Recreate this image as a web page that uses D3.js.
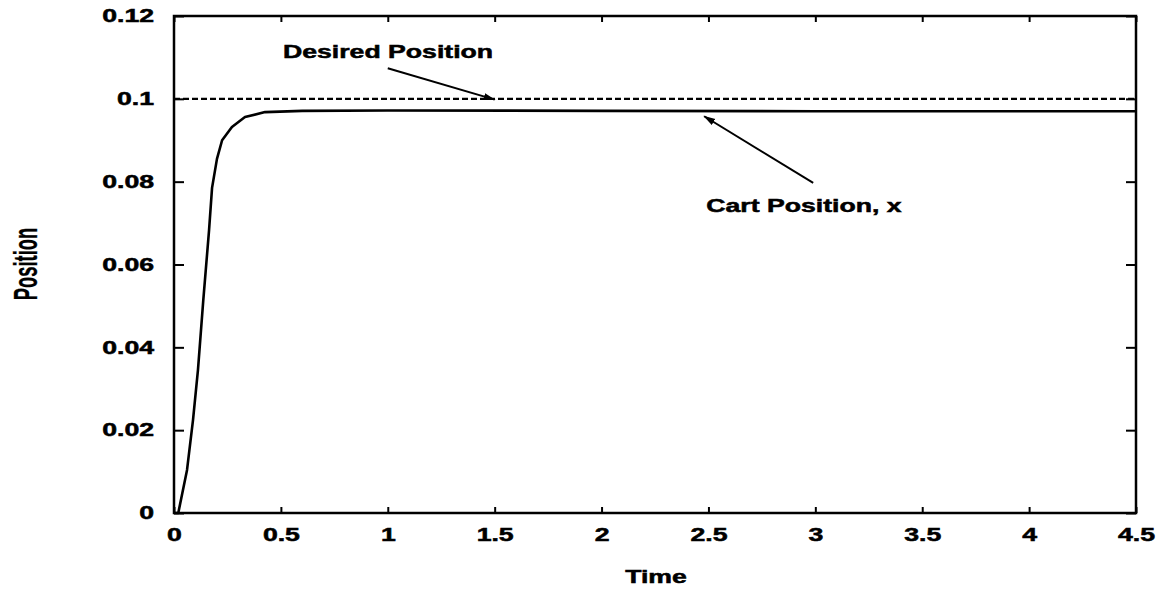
<!DOCTYPE html>
<html>
<head>
<meta charset="utf-8">
<script src="https://cdn.jsdelivr.net/npm/d3@7"></script>
<style>
  body { margin: 0; background: #fff; }
  svg { display: block; }
  text { stroke: #000; stroke-width: 0.5px; }
</style>
</head>
<body>
<script>
// values
const time = [0, 0.02, 0.061, 0.089, 0.112, 0.137, 0.164, 0.178, 0.201, 0.225, 0.271, 0.332, 0.426, 0.6, 1.0, 2.0, 3.0, 4.0, 4.5];
const cartPos = [0, 0, 0.0104, 0.0225, 0.0345, 0.0514, 0.0683, 0.0785, 0.0855, 0.090, 0.0932, 0.0956, 0.0968, 0.0971, 0.0972, 0.0971, 0.097, 0.097, 0.097];
const desiredTime = [0, 4.5];
const desiredPos = [0.1, 0.1];
const xTicks = [0, 0.5, 1, 1.5, 2, 2.5, 3, 3.5, 4, 4.5];
const yTicks = [0, 0.02, 0.04, 0.06, 0.08, 0.1, 0.12];
const yTickLabels = ["0", "0.02", "0.04", "0.06", "0.08", "0.1", "0.12"];

const width = 1160, height = 589;
const margin = {top: 16, right: 24, bottom: 76, left: 174};
const stretch = 1.48; // the scan's lettering is wide

const svg = d3.select("body").append("svg")
    .attr("width", width)
    .attr("height", height)
    .attr("font-family", "'Liberation Sans', Arial, sans-serif")
    .attr("font-weight", "bold");

const x = d3.scaleLinear().domain([0, 4.5]).range([margin.left, width - margin.right]);
const y = d3.scaleLinear().domain([0, 0.12]).range([height - margin.bottom, margin.top]);

svg.append("defs").append("marker")
    .attr("id", "arrow")
    .attr("viewBox", "0 0 12 8")
    .attr("refX", 11).attr("refY", 4)
    .attr("markerWidth", 12).attr("markerHeight", 8)
    .attr("markerUnits", "userSpaceOnUse")
    .attr("orient", "auto")
  .append("path")
    .attr("d", "M0,0.5 L12,4 L0,7.5 Z")
    .attr("fill", "#000");

// axes: inward ticks on all four sides
const gx = svg.append("g")
    .attr("transform", `translate(0,${y(0)})`)
    .call(d3.axisBottom(x).tickValues(xTicks).tickSizeInner(-6).tickSizeOuter(0).tickPadding(15)
      .tickFormat(d => String(d)));
const gy = svg.append("g")
    .attr("transform", `translate(${x(0)},0)`)
    .call(d3.axisLeft(y).tickValues(yTicks).tickSizeInner(-10).tickSizeOuter(0).tickPadding(13.5)
      .tickFormat((d, i) => yTickLabels[i]));
svg.append("g")
    .attr("transform", `translate(0,${y(0.12)})`)
    .call(d3.axisTop(x).tickValues(xTicks).tickSizeInner(-6).tickSizeOuter(0).tickFormat(""));
svg.append("g")
    .attr("transform", `translate(${x(4.5)},0)`)
    .call(d3.axisRight(y).tickValues(yTicks).tickSizeInner(-10).tickSizeOuter(0).tickFormat(""));

svg.selectAll(".domain").remove();
svg.selectAll(".tick line").attr("stroke", "#000").attr("stroke-width", 2);
svg.selectAll(".tick text")
    .attr("font-size", 18)
    .attr("fill", "#000")
    .attr("transform", `scale(${stretch},1)`);
gx.attr("font-family", null).attr("font-size", null);
gy.attr("font-family", null).attr("font-size", null);

svg.append("rect")
    .attr("x", x(0)).attr("y", y(0.12))
    .attr("width", x(4.5) - x(0)).attr("height", y(0) - y(0.12))
    .attr("fill", "none")
    .attr("stroke", "#000")
    .attr("stroke-width", 2.5);

// series
const line = d3.line().x(d => x(d[0])).y(d => y(d[1]));

svg.append("path")
    .datum(d3.zip(desiredTime, desiredPos))
    .attr("d", line)
    .attr("fill", "none")
    .attr("stroke", "#000")
    .attr("stroke-width", 2.2)
    .attr("stroke-dasharray", "6,3");

svg.append("path")
    .datum(d3.zip(time, cartPos))
    .attr("d", line)
    .attr("fill", "none")
    .attr("stroke", "#000")
    .attr("stroke-width", 2.6)
    .attr("stroke-linejoin", "round");

// annotations
const notes = [
  {text: "Desired Position", tx: 0.51, ty: 0.1099, from: [1.0, 0.1074], to: [1.5, 0.0998]},
  {text: "Cart Position, x", tx: 2.49, ty: 0.0727, from: [2.99, 0.0797], to: [2.48, 0.0958]}
];

notes.forEach(n => {
  svg.append("text")
      .attr("transform", `translate(${x(n.tx)},${y(n.ty)}) scale(${stretch},1)`)
      .attr("font-size", 18)
      .text(n.text);
  svg.append("line")
      .attr("x1", x(n.from[0])).attr("y1", y(n.from[1]))
      .attr("x2", x(n.to[0])).attr("y2", y(n.to[1]))
      .attr("stroke", "#000")
      .attr("stroke-width", 2)
      .attr("marker-end", "url(#arrow)");
});

// axis titles
svg.append("text")
    .attr("transform", `translate(${(x(0) + x(4.5)) / 2 + 1},583) scale(${stretch},1)`)
    .attr("text-anchor", "middle")
    .attr("font-size", 18)
    .text("Time");

svg.append("text")
    .attr("transform", `translate(37,264) rotate(-90) scale(0.54,1)`)
    .attr("text-anchor", "middle")
    .attr("font-size", 34)
    .style("stroke-width", "0.3px")
    .text("Position");
</script>
</body>
</html>
